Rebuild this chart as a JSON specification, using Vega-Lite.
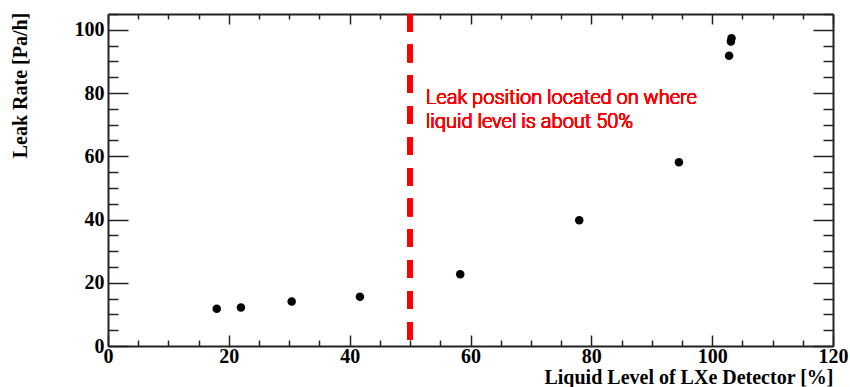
{
  "$schema": "https://vega.github.io/schema/vega-lite/v6.json",
  "width": 725,
  "height": 332,
  "autosize": "none",
  "padding": {"left": 108, "top": 14, "right": 17, "bottom": 41},
  "background": "white",
  "config": {
    "view": {"stroke": null},
    "axis": {
      "grid": false,
      "domainColor": "#222",
      "domainWidth": 2,
      "tickColor": "#222",
      "tickWidth": 1.5,
      "labelFont": "Liberation Serif",
      "labelFontWeight": "bold",
      "labelFontSize": 20,
      "labelColor": "black",
      "titleFont": "Liberation Serif",
      "titleFontWeight": "bold",
      "titleFontSize": 20,
      "titleColor": "black",
      "labelFlush": false,
      "labelOverlap": false
    }
  },
  "data": {
    "values": [
      {"level": 18.0, "rate": 11.8},
      {"level": 22.0, "rate": 12.2},
      {"level": 30.4, "rate": 14.1},
      {"level": 41.7, "rate": 15.6},
      {"level": 58.3, "rate": 22.7},
      {"level": 78.0, "rate": 39.8},
      {"level": 94.5, "rate": 58.1},
      {"level": 102.8, "rate": 91.8},
      {"level": 103.1, "rate": 96.3},
      {"level": 103.2, "rate": 97.3}
    ]
  },
  "layer": [
    {
      "mark": {"type": "point", "filled": true, "size": 72, "color": "black", "opacity": 1},
      "encoding": {
        "x": {
          "field": "level", "type": "quantitative",
          "scale": {"domain": [0, 120], "nice": false, "zero": false},
          "axis": {
            "orient": "bottom",
            "values": [0,5,10,15,20,25,30,35,40,45,50,55,60,65,70,75,80,85,90,95,100,105,110,115,120],
            "tickSize": {"condition": {"test": "datum.value % 20 === 0", "value": -11}, "value": -6},
            "labelExpr": "datum.value % 20 === 0 ? datum.label : ''",
            "labelPadding": 11,
            "title": "Liquid Level of LXe Detector [%]",
            "titleAlign": "right",
            "titleBaseline": "middle",
            "titleX": 725,
            "titleY": 31
          }
        },
        "y": {
          "field": "rate", "type": "quantitative",
          "scale": {"domain": [0, 105], "nice": false, "zero": false},
          "axis": {
            "orient": "left",
            "values": [0,5,10,15,20,25,30,35,40,45,50,55,60,65,70,75,80,85,90,95,100,105],
            "tickSize": {"condition": {"test": "datum.value % 20 === 0", "value": -20}, "value": -10},
            "labelExpr": "datum.value % 20 === 0 ? datum.label : ''",
            "labelPadding": 24,
            "title": "Leak Rate [Pa/h]",
            "titleAngle": 270,
            "titleAlign": "center",
            "titleBaseline": "middle",
            "titleX": -88,
            "titleY": 71
          }
        }
      }
    },
    {
      "mark": {"type": "rule", "color": "#ff0000", "strokeWidth": 5, "strokeDash": [17.5, 13.3]},
      "encoding": {
        "x": {"datum": 50, "type": "quantitative", "axis": null},
        "y": {"datum": 105, "type": "quantitative", "axis": null},
        "y2": {"datum": 0}
      }
    },
    {
      "mark": {"type": "text", "color": "#ff0000", "font": "Roboto", "fontSize": 20, "fontWeight": 300, "align": "left", "baseline": "alphabetic", "lineHeight": 24},
      "encoding": {
        "text": {"value": ["Leak position located on where", "liquid level is about 50%"]},
        "x": {
          "datum": 52.6, "type": "quantitative",
          "axis": {
            "orient": "top",
            "values": [0,5,10,15,20,25,30,35,40,45,50,55,60,65,70,75,80,85,90,95,100,105,110,115,120],
            "tickSize": {"condition": {"test": "datum.value % 20 === 0", "value": -10}, "value": -5},
            "labels": false,
            "title": null
          }
        },
        "y": {
          "datum": 76.4, "type": "quantitative",
          "axis": {
            "orient": "right",
            "values": [0,5,10,15,20,25,30,35,40,45,50,55,60,65,70,75,80,85,90,95,100,105],
            "tickSize": {"condition": {"test": "datum.value % 20 === 0", "value": -20}, "value": -10},
            "labels": false,
            "title": null
          }
        }
      }
    }
  ],
  "resolve": {"axis": {"x": "independent", "y": "independent"}}
}
